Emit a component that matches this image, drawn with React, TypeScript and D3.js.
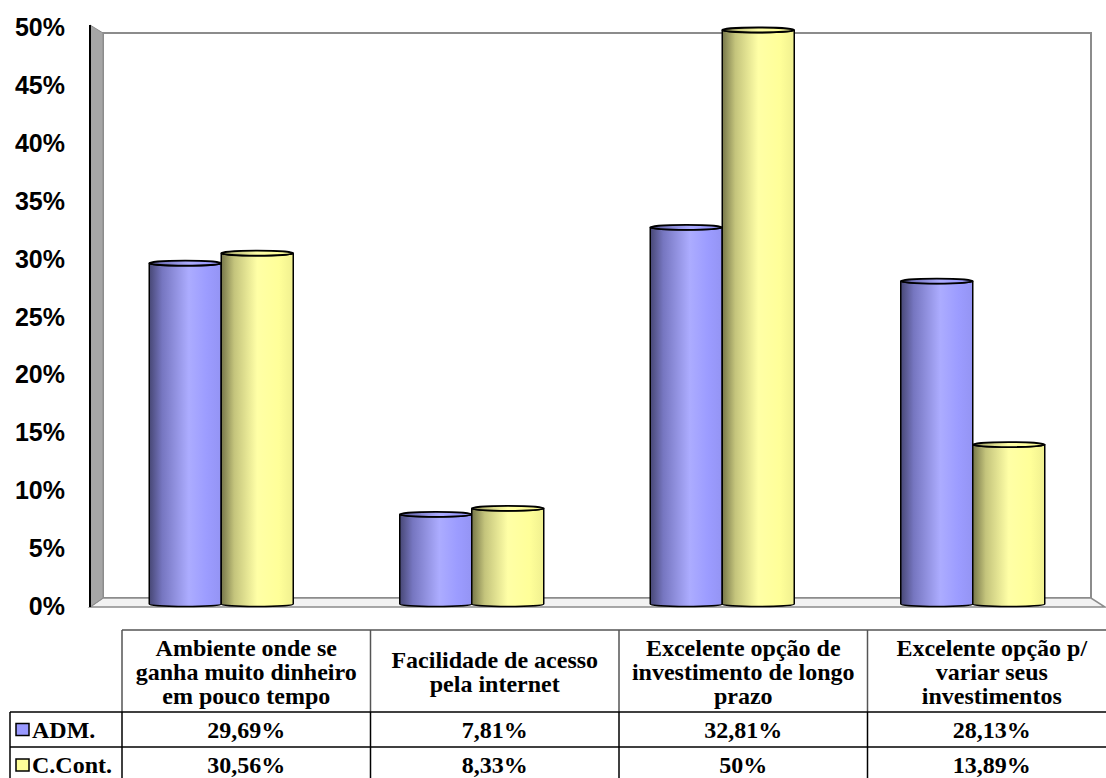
import React from "react";
import * as d3 from "d3";

const categories = [
  ["Ambiente onde se", "ganha muito dinheiro", "em pouco tempo"],
  ["Facilidade de acesso", "pela internet"],
  ["Excelente opção de", "investimento de longo", "prazo"],
  ["Excelente opção p/", "variar seus", "investimentos"],
];
const seriesNames = ["ADM.", "C.Cont."];
const admValues = [29.69, 7.81, 32.81, 28.13];
const contValues = [30.56, 8.33, 50, 13.89];
const admLabels = ["29,69%", "7,81%", "32,81%", "28,13%"];
const contLabels = ["30,56%", "8,33%", "50%", "13,89%"];
const yTicks = [0, 5, 10, 15, 20, 25, 30, 35, 40, 45, 50];

const W = 1106;
const H = 778;

// 3D frame geometry
const front = { left: 90, top: 25, bottom: 607 };
const back = { left: 103, top: 33, right: 1091, bottom: 598 };
const floorRight = 1105;

const x = d3
  .scaleBand<number>()
  .domain(d3.range(categories.length))
  .range([96, 1098])
  .padding(0);
const y = d3.scaleLinear().domain([0, 50]).range([604, 30]);
const yLabel = d3.scaleLinear().domain([0, 50]).range([606, 27]);

const colors = ["adm", "cont"];
const barW = 72;
const ry = 2.5;

function cylinderBody(x0: number, x1: number, yT: number, yB: number) {
  const rx = (x1 - x0) / 2;
  return `M${x0},${yT} L${x0},${yB} A${rx},${ry} 0 0 0 ${x1},${yB} L${x1},${yT} A${rx},${ry} 0 0 1 ${x0},${yT} Z`;
}

// table layout
const tableLeft = 10;
const colStart = 122;
const colW = 248.5;
const headTop = 630;
const headBottom = 712;
const row1Bottom = 747;
const row2Bottom = 783;

const serifStyle = {
  fontFamily: "'Liberation Serif', 'Times New Roman', Times, serif",
  fontSize: "24px",
  fontWeight: 700,
};

export default function App() {
  const series = [admValues, contValues];
  const rowLabels = [admLabels, contLabels];
  return (
    <svg
      width={W}
      height={H}
      style={{ position: "absolute", left: 0, top: 0, background: "#fff" }}
    >
      <defs>
        <linearGradient id="adm" x1="0" x2="1" y1="0" y2="0">
          <stop offset="0" stopColor="#474775" />
          <stop offset="0.18" stopColor="#7676c0" />
          <stop offset="0.55" stopColor="#acacff" />
          <stop offset="0.8" stopColor="#9c9cff" />
          <stop offset="1" stopColor="#9494f4" />
        </linearGradient>
        <linearGradient id="cont" x1="0" x2="1" y1="0" y2="0">
          <stop offset="0" stopColor="#76764a" />
          <stop offset="0.18" stopColor="#c4c47c" />
          <stop offset="0.5" stopColor="#ffffa6" />
          <stop offset="0.8" stopColor="#ffff99" />
          <stop offset="1" stopColor="#f0f090" />
        </linearGradient>
      </defs>

      {/* back wall */}
      <rect
        x={back.left}
        y={back.top}
        width={back.right - back.left}
        height={back.bottom - back.top}
        fill="#fff"
        stroke="#8c8c8c"
        strokeWidth={2}
      />
      {/* floor */}
      <polygon
        points={`${front.left},${front.bottom} ${back.left},${back.bottom} ${back.right},${back.bottom} ${floorRight},${front.bottom}`}
        fill="#f2f2f2"
        stroke="#8c8c8c"
        strokeWidth={1.5}
      />
      {/* side wall */}
      <polygon
        points={`${front.left},${front.top} ${back.left},${back.top} ${back.left},${back.bottom} ${front.left},${front.bottom}`}
        fill="#a6a6a6"
        stroke="#8c8c8c"
        strokeWidth={1}
      />
      <line
        x1={front.left}
        x2={front.left}
        y1={front.top}
        y2={front.bottom}
        stroke="#000"
        strokeWidth={2}
      />

      {/* y-axis labels */}
      {yTicks.map((t) => (
        <text
          key={t}
          x={65}
          y={yLabel(t)}
          dy="0.36em"
          textAnchor="end"
          fontFamily="'Liberation Sans', Arial, sans-serif"
          fontWeight="bold"
          fontSize={25}
          fill="#000"
        >
          {t}%
        </text>
      ))}

      {/* cylinders */}
      {categories.map((_, i) => {
        const cx = (x(i) as number) + x.bandwidth() / 2;
        return (
          <g key={i}>
            {series.map((vals, s) => {
              const x0 = cx - barW + s * barW;
              const x1 = x0 + barW;
              const yT = y(vals[i]);
              const yB = y(0);
              return (
                <g key={s}>
                  <path
                    d={cylinderBody(x0, x1, yT, yB)}
                    fill={`url(#${colors[s]})`}
                    stroke="#000"
                    strokeWidth={1.5}
                  />
                  <ellipse
                    cx={(x0 + x1) / 2}
                    cy={yT}
                    rx={barW / 2}
                    ry={ry}
                    fill={`url(#${colors[s]})`}
                    stroke="#000"
                    strokeWidth={1.8}
                  />
                </g>
              );
            })}
          </g>
        );
      })}

      {/* data table */}
      <g fill="#000">
        <line x1={colStart} x2={colStart + colW * 4} y1={headTop} y2={headTop} stroke="#555" strokeWidth={1.5} />
        {d3.range(5).map((k) => (
          <line
            key={"hv" + k}
            x1={colStart + k * colW}
            x2={colStart + k * colW}
            y1={headTop}
            y2={headBottom}
            stroke="#555"
            strokeWidth={1.5}
          />
        ))}
        {categories.map((lines, i) => {
          const cx = colStart + colW * (i + 0.5);
          const mid = (headTop + headBottom) / 2;
          return (
            <text key={"h" + i} textAnchor="middle" style={serifStyle}>
              {lines.map((ln, j) => (
                <tspan key={j} x={cx} y={mid + 9 + (j - (lines.length - 1) / 2) * 24}>
                  {ln}
                </tspan>
              ))}
            </text>
          );
        })}

        {[headBottom, row1Bottom, row2Bottom].map((yy, r) => (
          <line
            key={"rh" + r}
            x1={tableLeft}
            x2={colStart + colW * 4}
            y1={yy}
            y2={yy}
            stroke="#000"
            strokeWidth={1.5}
          />
        ))}
        {[tableLeft, ...d3.range(5).map((k) => colStart + k * colW)].map((xx, k) => (
          <line
            key={"rv" + k}
            x1={xx}
            x2={xx}
            y1={headBottom}
            y2={row2Bottom}
            stroke="#000"
            strokeWidth={1.5}
          />
        ))}
        {seriesNames.map((name, r) => {
          const top = r === 0 ? headBottom : row1Bottom;
          const bottom = r === 0 ? row1Bottom : row2Bottom;
          const mid = (top + bottom) / 2;
          return (
            <g key={"row" + r}>
              <rect
                x={16}
                y={mid - 6}
                width={13}
                height={12}
                fill={r === 0 ? "#9999ff" : "#ffff99"}
                stroke="#000"
                strokeWidth={1.5}
              />
              <text x={32} y={mid + 8} style={serifStyle}>
                {name}
              </text>
              {rowLabels[r].map((lbl, i) => (
                <text
                  key={i}
                  x={colStart + colW * (i + 0.5)}
                  y={mid + 8}
                  textAnchor="middle"
                  style={serifStyle}
                >
                  {lbl}
                </text>
              ))}
            </g>
          );
        })}
      </g>
    </svg>
  );
}
